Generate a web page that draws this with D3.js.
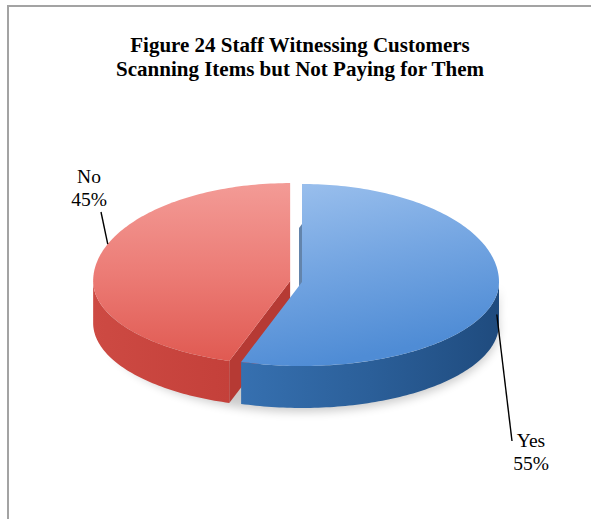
<!DOCTYPE html>
<html>
<head>
<meta charset="utf-8">
<script src="https://cdn.jsdelivr.net/npm/d3@7"></script>
<style>
  body { margin: 0; background: #fff; }
  svg { display: block; }
  .title { font-family: 'Liberation Serif', serif; font-weight: bold; font-size: 21px; fill: #000; }
  .lbl { font-family: 'Liberation Serif', serif; font-size: 19.5px; fill: #000; }
</style>
</head>
<body>
<svg id="chart" width="591" height="519"></svg>
<script>
// data
var categories = ['Yes', 'No'];
var shares = [55, 45];
var titleLines = ['Figure 24 Staff Witnessing Customers',
    'Scanning Items but Not Paying for Them'];

var W = 591, H = 519;
var svg = d3.select('#chart');

// frame (clipped by the window on right / bottom)
svg.append('path')
    .attr('d', 'M 8 ' + (H + 2) + ' V 6 H ' + (W + 2))
    .attr('fill', 'none')
    .attr('stroke', '#a3a3a3')
    .attr('stroke-width', 2);

svg.selectAll('.title').data(titleLines).enter().append('text')
    .attr('class', 'title')
    .attr('x', 300)
    .attr('y', function (d, i) { return 52 + i * 24; })
    .attr('text-anchor', 'middle')
    .text(function (d) { return d; });

//pie geometry
var P = { cx: 302, cy: 282, rx: 197, ryB: 98, ryF: 84, depth: 42, explode: 12 };

function proj(ox, oy, t, dz) {
    var c = Math.cos(t);
    return [ox + P.rx * Math.sin(t), oy - (c > 0 ? P.ryB : P.ryF) * c + (dz || 0)];
}
function arcPts(ox, oy, a0, a1, dz) {
    var n = Math.max(2, Math.ceil(Math.abs(a1 - a0) / 0.02));
    return d3.range(n + 1).map(function (i) {
        return proj(ox, oy, a0 + (a1 - a0) * i / n, dz);
    });
}
var line = d3.line().curve(d3.curveLinearClosed);

var slices = d3.pie().sort(null).value(function (d) { return d; })(shares);
slices.forEach(function (s, i) {
    s.name = categories[i];
    var mid = (s.startAngle + s.endAngle) / 2;
    var e = i === 1 ? P.explode : 0;
    s.ox = P.cx + e * Math.sin(mid);
    s.oy = P.cy - e * Math.cos(mid) * P.ryB / P.rx;
});

var defs = svg.append('defs');
function grad(id, x2, y2, stops) {
    var g = defs.append('linearGradient').attr('id', id)
        .attr('x1', 0).attr('y1', 0).attr('x2', x2).attr('y2', y2);
    stops.forEach(function (s) {
        g.append('stop').attr('offset', s[0]).attr('stop-color', s[1]);
    });
}
grad('topYes', 0.3, 1, [[0, '#9ec2ee'], [0.5, '#75a6e2'], [1, '#4f8cd5']]);
grad('rimYes', 1, 0, [[0, '#3670b0'], [0.5, '#2b5f99'], [1, '#1f4b7e']]);
grad('topNo', 0, 1, [[0, '#f39b96'], [0.5, '#ec7c76'], [1, '#e05a52']]);
grad('rimNo', 1, 0, [[0, '#cd4a43'], [1, '#c4403a']]);
defs.append('filter').attr('id', 'blur')
    .attr('x', -0.2).attr('y', -0.2).attr('width', 1.4).attr('height', 1.4)
    .append('feGaussianBlur').attr('stdDeviation', 5);

// soft shadow under the pie
svg.append('path')
    .attr('d', line(arcPts(P.cx, P.cy + 4, Math.PI / 2 - 0.1, 3 * Math.PI / 2 + 0.1, P.depth)
        .concat(arcPts(P.cx, P.cy, 3 * Math.PI / 2, Math.PI / 2, 0))))
    .attr('fill', '#000')
    .attr('opacity', 0.2)
    .attr('filter', 'url(#blur)');

// draw No (back-left, exploded) first, then Yes
[slices[1], slices[0]].forEach(function (s) {
    var g = svg.append('g');
    var a0 = s.startAngle, a1 = s.endAngle;
    var isYes = s.name === 'Yes';
    // cut face at start angle (visible for No)
    if (!isYes) {
        var r0 = proj(s.ox, s.oy, a0);
        g.append('path')
            .attr('d', line([[s.ox, s.oy], r0, [r0[0], r0[1] + P.depth],
                [s.ox, s.oy + P.depth]]))
            .attr('fill', '#b63a34');
    } else {
        // thin sliver of the back cut face seen in the gap
        g.append('path')
            .attr('d', line([[s.ox, s.oy - P.ryB + 40], [s.ox, s.oy + P.depth],
                [s.ox - 3, s.oy + P.depth - 4], [s.ox - 3, s.oy - P.ryB + 44]]))
            .attr('fill', '#3c6596').attr('opacity', 0.8);
    }
    // outer rim, front half only
    var v0 = Math.max(a0, Math.PI / 2), v1 = Math.min(a1, 3 * Math.PI / 2);
    if (v1 > v0) {
        g.append('path')
            .attr('d', line(arcPts(s.ox, s.oy, v0, v1, 0)
                .concat(arcPts(s.ox, s.oy, v1, v0, P.depth))))
            .attr('fill', 'url(#rim' + s.name + ')');
    }
    // top face
    g.append('path')
        .attr('d', line([[s.ox, s.oy]].concat(arcPts(s.ox, s.oy, a0, a1, 0))))
        .attr('fill', 'url(#top' + s.name + ')');
});

// labels with leader lines
var labelPos = { Yes: [531, 447], No: [89, 183] };
var leader = {
    Yes: { at: 1.72, dz: 20, to: [512, 441] },
    No: { at: 5.1, dz: 0, to: [101, 212] }
};
slices.forEach(function (s) {
    var L = leader[s.name];
    var p = proj(s.ox, s.oy, L.at, L.dz);
    svg.append('line')
        .attr('x1', p[0]).attr('y1', p[1])
        .attr('x2', L.to[0]).attr('y2', L.to[1])
        .attr('stroke', '#000').attr('stroke-width', 1.4);
    var t = svg.append('text').attr('class', 'lbl')
        .attr('x', labelPos[s.name][0]).attr('y', labelPos[s.name][1])
        .attr('text-anchor', 'middle');
    t.append('tspan').attr('x', labelPos[s.name][0]).text(s.name);
    t.append('tspan').attr('x', labelPos[s.name][0]).attr('dy', 23)
        .text(s.value + '%');
});
</script>
</body>
</html>
